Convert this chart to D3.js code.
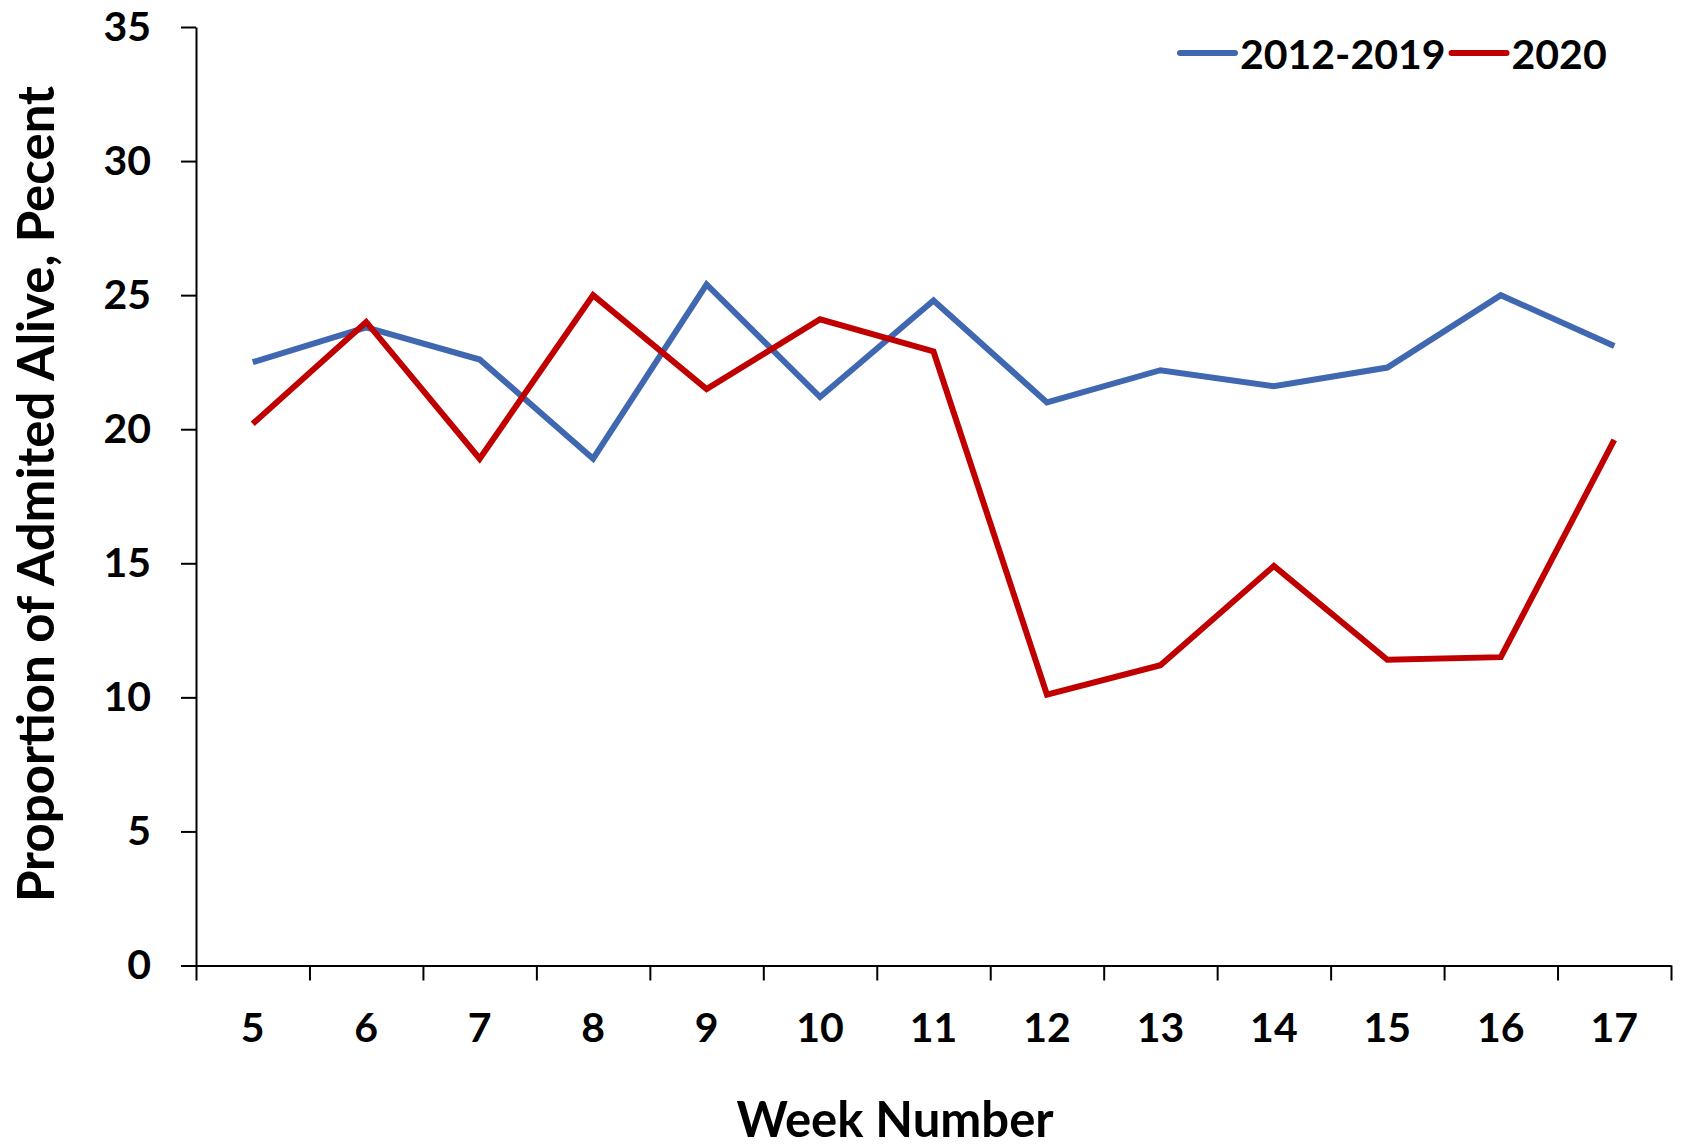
<!DOCTYPE html>
<html>
<head>
<meta charset="utf-8">
<script src="https://cdn.jsdelivr.net/npm/d3@7"></script>
<style>
  body { margin: 0; background: #fff; }
  text { font-family: Lato, "Open Sans", sans-serif; font-weight: bold; fill: #000; }
  .axis path, .axis line { stroke: #000; stroke-width: 2; }
  .line { fill: none; stroke-width: 6; stroke-linejoin: miter; }
</style>
</head>
<body>
<script>
// ---------------- DATA ----------------
const weeks = [5, 6, 7, 8, 9, 10, 11, 12, 13, 14, 15, 16, 17];
const avg2012_2019 = [22.5, 23.8, 22.6, 18.9, 25.4, 21.2, 24.8, 21.0, 22.2, 21.6, 22.3, 25.0, 23.1];
const year2020 = [20.2, 24.0, 18.9, 25.0, 21.5, 24.1, 22.9, 10.1, 11.2, 14.9, 11.4, 11.5, 19.6];
const yTicks = [0, 5, 10, 15, 20, 25, 30, 35];
const seriesNames = ["2012-2019", "2020"];
const seriesColors = ["#4068b0", "#c00000"];

const width = 1688;
const height = 1148;
const plotLeft = 196, plotRight = 1671, plotTop = 27, plotBottom = 965.5;

const svg = d3.select("body").append("svg")
  .attr("width", width).attr("height", height);
svg.append("rect").attr("width", width).attr("height", height).attr("fill", "#fff");

//----------------------------SCALES-----------------------------//
const xScale = d3.scaleBand().domain(weeks).range([plotLeft, plotRight]).padding(0);
const xEdges = d3.scaleLinear().domain([0, weeks.length]).range([plotLeft, plotRight]);
const yScale = d3.scaleLinear().domain([0, 35]).range([plotBottom, plotTop]);

//-----------------------------AXES------------------------------//
// tick marks sit between the weeks
svg.append("g").attr("class", "axis")
  .attr("transform", "translate(0," + plotBottom + ")")
  .call(d3.axisBottom(xEdges).tickValues(d3.range(0, weeks.length + 1))
    .tickSize(15).tickSizeOuter(0).tickFormat(""));

// week labels in the middle of each band
const xLab = svg.append("g")
  .attr("transform", "translate(0," + plotBottom + ")")
  .call(d3.axisBottom(xScale).tickSize(0).tickPadding(47));
xLab.select(".domain").remove();
xLab.selectAll("text").style("font-size", "41px");

const yAx = svg.append("g").attr("class", "axis")
  .attr("transform", "translate(" + plotLeft + ",0)")
  .call(d3.axisLeft(yScale).tickValues(yTicks).tickSize(15).tickSizeOuter(0).tickPadding(30));
yAx.selectAll("text").style("font-size", "41px");

//----------------------------LINES------------------------------//
const line = d3.line()
  .x(function(d, i) { return xScale(weeks[i]) + xScale.bandwidth() / 2; })
  .y(function(d) { return yScale(d); });

[avg2012_2019, year2020].forEach(function(vals, i) {
  svg.append("path").attr("class", "line")
    .attr("stroke", seriesColors[i])
    .attr("d", line(vals));
});

//----------------------------TITLES------------------------------//
svg.append("text")
  .attr("x", 895).attr("y", 1137)
  .attr("text-anchor", "middle")
  .style("font-size", "49px")
  .text("Week Number");

svg.append("text")
  .attr("transform", "translate(54,494) rotate(-90)")
  .attr("text-anchor", "middle")
  .style("font-size", "51px")
  .text("Proportion of Admited Alive, Pecent");

//----------------------------LEGEND------------------------------//
let lx = 1180;
seriesNames.forEach(function(name, i) {
  svg.append("line")
    .attr("x1", lx).attr("x2", lx + 55)
    .attr("y1", 53).attr("y2", 53)
    .attr("stroke", seriesColors[i]).attr("stroke-width", 6)
    .attr("stroke-linecap", "round");
  const t = svg.append("text")
    .attr("x", lx + 60).attr("y", 69)
    .style("font-size", "41px")
    .text(name);
  lx = lx + 60 + t.node().getComputedTextLength() + 6;
});
</script>
</body>
</html>
